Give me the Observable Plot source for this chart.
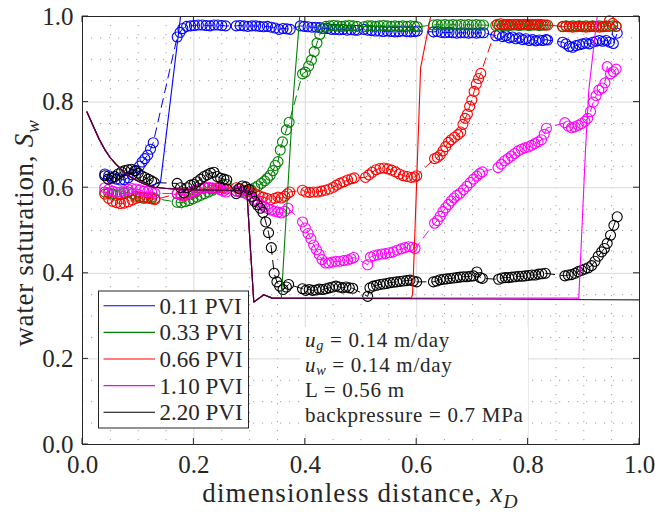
<!DOCTYPE html>
<html>
<head>
<meta charset="utf-8">
<script src="https://cdn.jsdelivr.net/npm/d3@7"></script>
<script src="https://cdn.jsdelivr.net/npm/@observablehq/plot@0.6"></script>
<style>
  body { margin: 0; background: #fff; }
  #chart { width: 655px; height: 514px; }
</style>
</head>
<body>
<div id="chart"></div>
<script>
// Measured water saturation profiles [x_D, S_w] at each injected pore volume
const pvi011 = [
  [0.040,0.632],[0.047,0.628],[0.054,0.624],[0.061,0.620],[0.068,0.618],[0.075,0.619],[0.082,0.623],[0.089,0.630],[0.096,0.640],[0.102,0.650],[0.107,0.660],[0.112,0.668],[0.117,0.676],[0.122,0.690],[0.127,0.705],
  [0.170,0.952],[0.175,0.963],[0.180,0.972],[0.187,0.977],[0.194,0.978],[0.201,0.979],[0.208,0.980],[0.215,0.980],[0.222,0.979],[0.229,0.978],[0.236,0.980],[0.243,0.980],[0.250,0.979],[0.257,0.978],
  [0.276,0.978],[0.283,0.979],[0.290,0.978],[0.297,0.977],[0.304,0.978],[0.311,0.978],[0.318,0.977],[0.325,0.976],[0.332,0.977],[0.339,0.975],[0.346,0.973],[0.353,0.970],[0.360,0.972],[0.367,0.971],[0.373,0.970],
  [0.391,0.978],[0.398,0.977],[0.405,0.976],[0.412,0.975],[0.419,0.975],[0.426,0.974],[0.433,0.972],[0.440,0.972],[0.447,0.970],[0.454,0.970],[0.461,0.969],[0.468,0.970],[0.475,0.968],[0.482,0.969],[0.489,0.968],[0.494,0.968],
  [0.505,0.970],[0.512,0.968],[0.519,0.967],[0.526,0.966],[0.533,0.966],[0.540,0.965],[0.547,0.966],[0.554,0.965],[0.561,0.964],[0.568,0.965],[0.575,0.966],[0.582,0.965],[0.589,0.964],[0.596,0.965],[0.601,0.966],
  [0.630,0.964],[0.637,0.965],[0.644,0.963],[0.651,0.962],[0.658,0.963],[0.665,0.962],[0.672,0.961],[0.679,0.962],[0.686,0.962],[0.693,0.961],[0.700,0.962],[0.707,0.961],[0.714,0.962],[0.720,0.962],
  [0.742,0.955],[0.748,0.958],[0.754,0.953],[0.760,0.955],[0.766,0.950],[0.772,0.952],[0.778,0.948],[0.784,0.950],[0.790,0.946],[0.796,0.948],[0.802,0.944],[0.808,0.946],[0.814,0.943],[0.820,0.945],[0.826,0.944],[0.832,0.946],[0.835,0.945],
  [0.862,0.940],[0.868,0.936],[0.874,0.930],[0.880,0.928],[0.886,0.932],[0.892,0.934],[0.898,0.936],[0.904,0.938],[0.910,0.936],[0.916,0.940],[0.922,0.942],[0.928,0.944],[0.934,0.942],[0.940,0.944],[0.946,0.940],[0.953,0.937],[0.960,0.961]
];
const pvi033 = [
  [0.040,0.590],[0.047,0.588],[0.054,0.585],[0.061,0.582],[0.068,0.584],[0.075,0.588],[0.082,0.590],[0.089,0.586],[0.096,0.580],[0.103,0.577],[0.110,0.575],[0.117,0.576],[0.124,0.578],[0.130,0.575],
  [0.170,0.566],[0.177,0.565],[0.184,0.567],[0.191,0.570],[0.198,0.574],[0.205,0.578],[0.212,0.582],[0.219,0.586],[0.226,0.590],[0.233,0.594],[0.240,0.598],[0.247,0.602],[0.253,0.606],[0.258,0.608],
  [0.276,0.592],[0.283,0.590],[0.290,0.590],[0.297,0.592],[0.303,0.595],[0.309,0.600],[0.315,0.604],[0.321,0.610],[0.327,0.616],[0.332,0.622],[0.337,0.629],[0.342,0.640],[0.346,0.652],[0.351,0.661],[0.355,0.688],[0.359,0.707],[0.366,0.735],[0.371,0.753],
  [0.395,0.866],[0.400,0.870],[0.406,0.884],[0.411,0.898],[0.416,0.918],[0.421,0.938],[0.426,0.958],[0.431,0.972],[0.437,0.977],[0.444,0.978],[0.451,0.979],[0.458,0.978],[0.465,0.977],[0.472,0.978],[0.479,0.979],[0.486,0.978],[0.493,0.977],
  [0.505,0.976],[0.512,0.978],[0.519,0.978],[0.526,0.977],[0.533,0.978],[0.540,0.979],[0.547,0.978],[0.554,0.977],[0.561,0.978],[0.568,0.977],[0.575,0.978],[0.582,0.977],[0.589,0.978],[0.596,0.977],[0.601,0.976],
  [0.630,0.980],[0.637,0.981],[0.644,0.980],[0.651,0.981],[0.658,0.980],[0.665,0.981],[0.672,0.980],[0.679,0.981],[0.686,0.980],[0.693,0.981],[0.700,0.980],[0.707,0.981],[0.714,0.980],[0.720,0.980],
  [0.742,0.979],[0.748,0.980],[0.754,0.979],[0.760,0.980],[0.766,0.979],[0.772,0.980],[0.778,0.980],[0.784,0.979],[0.790,0.980],[0.796,0.980],[0.802,0.979],[0.808,0.980],[0.814,0.980],[0.820,0.979],[0.826,0.980],[0.832,0.980],
  [0.862,0.977],[0.868,0.978],[0.874,0.977],[0.880,0.978],[0.886,0.977],[0.892,0.978],[0.898,0.977],[0.904,0.978],[0.910,0.977],[0.916,0.978],[0.922,0.977],[0.928,0.978],[0.934,0.977],[0.940,0.978],[0.946,0.977],[0.952,0.978],[0.958,0.977]
];
const pvi066 = [
  [0.040,0.585],[0.047,0.575],[0.054,0.568],[0.061,0.565],[0.068,0.563],[0.075,0.564],[0.082,0.567],[0.089,0.571],[0.096,0.575],[0.103,0.578],[0.110,0.578],[0.117,0.576],[0.124,0.574],[0.130,0.572],
  [0.170,0.586],[0.177,0.583],[0.184,0.582],[0.191,0.585],[0.198,0.589],[0.205,0.593],[0.212,0.598],[0.219,0.601],[0.226,0.600],[0.233,0.598],[0.240,0.599],[0.247,0.601],[0.253,0.599],[0.258,0.597],
  [0.276,0.600],[0.283,0.597],[0.290,0.594],[0.297,0.592],[0.303,0.590],[0.310,0.586],[0.317,0.581],[0.324,0.578],[0.331,0.575],[0.338,0.572],[0.345,0.575],[0.351,0.578],[0.357,0.576],[0.363,0.580],[0.368,0.586],[0.372,0.590],
  [0.395,0.594],[0.401,0.590],[0.408,0.589],[0.415,0.590],[0.422,0.590],[0.429,0.592],[0.436,0.594],[0.443,0.597],[0.450,0.601],[0.456,0.606],[0.462,0.610],[0.469,0.614],[0.476,0.618],[0.483,0.621],[0.488,0.623],
  [0.508,0.624],[0.514,0.630],[0.520,0.636],[0.527,0.642],[0.534,0.645],[0.541,0.646],[0.548,0.644],[0.555,0.641],[0.562,0.637],[0.569,0.632],[0.576,0.628],[0.583,0.626],[0.590,0.624],[0.596,0.625],[0.600,0.628],
  [0.632,0.668],[0.637,0.671],[0.642,0.676],[0.647,0.686],[0.652,0.696],[0.657,0.706],[0.662,0.712],[0.668,0.718],[0.674,0.724],[0.679,0.730],[0.683,0.748],[0.687,0.762],[0.691,0.772],[0.695,0.790],[0.699,0.805],[0.703,0.825],[0.707,0.842],[0.711,0.855],[0.715,0.867],
  [0.745,0.982],[0.751,0.983],[0.757,0.981],[0.763,0.982],[0.769,0.981],[0.775,0.982],[0.781,0.982],[0.787,0.981],[0.793,0.982],[0.799,0.981],[0.805,0.982],[0.811,0.981],[0.817,0.982],[0.823,0.981],[0.829,0.980],[0.835,0.980],
  [0.862,0.976],[0.868,0.977],[0.874,0.976],[0.880,0.975],[0.886,0.976],[0.892,0.977],[0.898,0.976],[0.904,0.975],[0.910,0.976],[0.916,0.977],[0.922,0.976],[0.928,0.975],[0.934,0.976],[0.940,0.977],[0.946,0.990],[0.952,0.984],[0.958,0.977]
];
const pvi110 = [
  [0.040,0.600],[0.047,0.596],[0.054,0.592],[0.061,0.589],[0.068,0.590],[0.075,0.593],[0.082,0.596],[0.089,0.598],[0.096,0.597],[0.103,0.595],[0.110,0.592],[0.117,0.591],[0.124,0.589],[0.130,0.587],
  [0.170,0.586],[0.177,0.582],[0.184,0.583],[0.191,0.587],[0.198,0.591],[0.205,0.595],[0.212,0.598],[0.219,0.600],[0.226,0.601],[0.233,0.600],[0.240,0.598],[0.247,0.595],[0.253,0.592],[0.258,0.590],
  [0.276,0.592],[0.283,0.591],[0.290,0.588],[0.297,0.584],[0.303,0.578],[0.309,0.573],[0.315,0.566],[0.321,0.560],[0.327,0.555],[0.333,0.551],[0.339,0.548],[0.345,0.545],[0.351,0.543],[0.357,0.541],[0.363,0.545],[0.369,0.552],
  [0.395,0.520],[0.400,0.506],[0.405,0.493],[0.410,0.481],[0.415,0.466],[0.420,0.455],[0.425,0.444],[0.430,0.432],[0.436,0.424],[0.442,0.424],[0.448,0.426],[0.455,0.428],[0.462,0.428],[0.469,0.430],[0.476,0.431],[0.482,0.434],[0.487,0.437],
  [0.512,0.420],[0.517,0.438],[0.523,0.441],[0.530,0.443],[0.537,0.445],[0.544,0.446],[0.551,0.448],[0.558,0.450],[0.565,0.454],[0.572,0.457],[0.579,0.460],[0.586,0.462],[0.592,0.461],[0.597,0.458],
  [0.632,0.517],[0.637,0.523],[0.642,0.533],[0.647,0.544],[0.652,0.553],[0.657,0.561],[0.662,0.569],[0.667,0.576],[0.672,0.582],[0.678,0.587],[0.684,0.595],[0.690,0.603],[0.696,0.612],[0.702,0.620],[0.708,0.627],[0.713,0.633],[0.718,0.637],
  [0.746,0.647],[0.752,0.655],[0.758,0.663],[0.764,0.668],[0.770,0.674],[0.776,0.680],[0.782,0.686],[0.788,0.690],[0.794,0.693],[0.800,0.695],[0.806,0.699],[0.812,0.703],[0.818,0.707],[0.824,0.712],[0.829,0.725],[0.833,0.739],
  [0.866,0.752],[0.872,0.744],[0.878,0.740],[0.884,0.742],[0.890,0.746],[0.896,0.750],[0.902,0.755],[0.907,0.762],[0.912,0.778],[0.917,0.800],[0.922,0.815],[0.927,0.828],[0.933,0.833],[0.938,0.845],[0.942,0.883],[0.948,0.866],[0.953,0.871],[0.958,0.877]
];
const pvi220 = [
  [0.040,0.628],[0.046,0.620],[0.052,0.622],[0.058,0.626],[0.064,0.632],[0.070,0.637],[0.076,0.640],[0.082,0.642],[0.088,0.643],[0.094,0.640],[0.100,0.634],[0.106,0.628],[0.112,0.624],[0.118,0.620],[0.124,0.616],[0.129,0.612],
  [0.170,0.610],[0.176,0.600],[0.182,0.588],[0.188,0.600],[0.194,0.606],[0.200,0.608],[0.206,0.614],[0.212,0.620],[0.218,0.626],[0.224,0.630],[0.230,0.634],[0.236,0.636],[0.242,0.626],[0.248,0.622],[0.254,0.620],[0.259,0.618],
  [0.276,0.586],[0.281,0.598],[0.287,0.604],[0.293,0.602],[0.299,0.596],[0.304,0.580],[0.309,0.568],[0.314,0.560],[0.319,0.552],[0.324,0.542],[0.329,0.520],[0.334,0.495],[0.339,0.460],[0.344,0.400],[0.349,0.380],[0.354,0.370],[0.360,0.362],[0.366,0.368],[0.370,0.374],
  [0.395,0.364],[0.401,0.360],[0.407,0.362],[0.413,0.360],[0.419,0.361],[0.425,0.363],[0.431,0.362],[0.437,0.364],[0.443,0.366],[0.449,0.368],[0.455,0.370],[0.461,0.368],[0.467,0.366],[0.473,0.368],[0.479,0.366],[0.485,0.365],
  [0.512,0.346],[0.516,0.366],[0.522,0.370],[0.528,0.372],[0.534,0.374],[0.540,0.375],[0.546,0.376],[0.552,0.378],[0.558,0.379],[0.564,0.380],[0.570,0.381],[0.576,0.382],[0.582,0.383],[0.588,0.384],[0.594,0.382],[0.600,0.380],
  [0.630,0.380],[0.636,0.382],[0.642,0.385],[0.648,0.386],[0.654,0.387],[0.660,0.388],[0.666,0.389],[0.672,0.390],[0.678,0.391],[0.684,0.392],[0.690,0.392],[0.696,0.393],[0.702,0.394],[0.708,0.403],[0.714,0.390],[0.718,0.388],
  [0.747,0.386],[0.753,0.389],[0.759,0.390],[0.765,0.390],[0.771,0.391],[0.777,0.392],[0.783,0.393],[0.789,0.393],[0.795,0.394],[0.801,0.395],[0.807,0.396],[0.813,0.396],[0.819,0.398],[0.825,0.399],[0.831,0.400],
  [0.866,0.394],[0.872,0.396],[0.878,0.397],[0.884,0.400],[0.890,0.404],[0.896,0.407],[0.902,0.410],[0.908,0.413],[0.914,0.418],[0.920,0.428],[0.926,0.440],[0.932,0.450],[0.937,0.458],[0.942,0.470],[0.948,0.489],[0.954,0.512],[0.960,0.532]
];

// Model profiles [x_D, S_w]
const modelInlet = [[0.008,0.777],[0.020,0.742],[0.030,0.713],[0.040,0.689],[0.050,0.670],[0.060,0.655],[0.070,0.642],[0.080,0.631],[0.090,0.622],[0.100,0.615],[0.110,0.609],[0.120,0.604],[0.130,0.601],[0.150,0.598],[0.200,0.595],[0.250,0.594],[0.295,0.593]];
const modelDryZone = [[0.3075,0.333],[0.3255,0.350],[0.3405,0.342]];
const model011 = [...modelInlet.slice(0, 12), [0.140,0.612],[0.176,1.0],[1.0,1.0]];
const model033 = [...modelInlet, ...modelDryZone, [0.357,0.342],[0.378,0.805],[0.390,1.0],[1.0,1.0]];
const model066 = [...modelInlet, ...modelDryZone, [0.590,0.342],[0.5925,0.350],[0.595,0.430],[0.605,0.805],[0.607,0.880],[0.625,1.0],[1.0,1.0]];
const model110 = [...modelInlet, ...modelDryZone, [0.891,0.342],[0.903,0.688],[0.909,0.828],[0.924,1.0],[1.0,1.0]];
const model220 = [...modelInlet, ...modelDryZone, [1.0,0.338]];

const seriesLabels = ["0.11 PVI", "0.33 PVI", "0.66 PVI", "1.10 PVI", "2.20 PVI"];
const seriesColors = ["#0000ff", "#008000", "#ff0000", "#ff00ff", "#000000"];
const measured = [pvi011, pvi033, pvi066, pvi110, pvi220];
const models = [model011, model033, model066, model110, model220];

const majorTicks = [0, 0.2, 0.4, 0.6, 0.8, 1.0];
const minorTicks = [0.05, 0.10, 0.15, 0.25, 0.30, 0.35, 0.45, 0.50, 0.55, 0.65, 0.70, 0.75, 0.85, 0.90, 0.95];
const notes = [
  [{t: "u", it: true}, {t: "g", it: true, sub: true}, {t: " = 0.14 m/day"}],
  [{t: "u", it: true}, {t: "w", it: true, sub: true}, {t: " = 0.14 m/day"}],
  [{t: "L = 0.56 m"}],
  [{t: "backpressure = 0.7 MPa"}]
];

(function draw() {
  const serif = "'Liberation Serif', 'Times New Roman', serif";
  const ink = "#262626";
  const px = d => d[0], py = d => d[1];

  const chart = Plot.plot({
    width: 655,
    height: 514,
    marginLeft: 82,
    marginRight: 16,
    marginTop: 16,
    marginBottom: 70,
    x: {domain: [0, 1]},
    y: {domain: [0, 1]},
    style: {fontFamily: serif, background: "#fff", overflow: "visible"},
    marks: [
      Plot.gridX(minorTicks, {stroke: "#8a8a8a", strokeOpacity: 0.8, strokeDasharray: "1.2,7.8"}),
      Plot.gridY(minorTicks, {stroke: "#8a8a8a", strokeOpacity: 0.8, strokeDasharray: "1.2,7.8"}),
      Plot.gridX(majorTicks, {stroke: "#dadada", strokeOpacity: 1}),
      Plot.gridY(majorTicks, {stroke: "#dadada", strokeOpacity: 1}),
      ...measured.flatMap((data, i) => [
        Plot.line(data, {x: px, y: py, stroke: seriesColors[i], strokeWidth: 1, strokeDasharray: "9,6"}),
        Plot.dot(data, {x: px, y: py, r: 5, stroke: seriesColors[i], fill: "none", strokeWidth: 1.1})
      ]),
      ...models.map((data, i) => Plot.line(data, {
        x: px, y: py, stroke: seriesColors[i], strokeWidth: 1.1,
        strokeOpacity: i === 4 ? 0.8 : 1
      })),
      Plot.frame({stroke: ink}),
      Plot.axisX(majorTicks, {tickSize: 0, tickPadding: 11, tickFormat: d3.format(".1f"), fontSize: 25, fill: ink, label: null}),
      Plot.axisY(majorTicks, {tickSize: 0, tickPadding: 9, tickFormat: d3.format(".1f"), fontSize: 25, fill: ink, label: null})
    ]
  });

  document.getElementById("chart").append(chart);

  const sx = chart.scale("x"), sy = chart.scale("y");
  const X = v => sx.apply(v), Y = v => sy.apply(v);
  const svg = d3.select(chart);
  const x0 = X(0), x1 = X(1), y0 = Y(0), y1 = Y(1);

  // inward tick marks on all four sides
  const tickG = svg.append("g").attr("stroke", ink).attr("stroke-width", 1);
  for (const v of majorTicks) {
    tickG.append("line").attr("x1", X(v)).attr("x2", X(v)).attr("y1", y0).attr("y2", y0 - 6);
    tickG.append("line").attr("x1", X(v)).attr("x2", X(v)).attr("y1", y1).attr("y2", y1 + 6);
    tickG.append("line").attr("y1", Y(v)).attr("y2", Y(v)).attr("x1", x0).attr("x2", x0 + 6);
    tickG.append("line").attr("y1", Y(v)).attr("y2", Y(v)).attr("x1", x1).attr("x2", x1 - 6);
  }

  // text with italic symbols and subscripts
  function richText(parent, x, y, parts, size, anchor, spacing, subShift, subScale) {
    const t = parent.append("text")
      .attr("x", x).attr("y", y)
      .attr("font-family", serif).attr("font-size", size)
      .attr("fill", ink).attr("text-anchor", anchor || "start")
      .attr("letter-spacing", spacing || 0);
    let shift = 0;
    for (const p of parts) {
      const s = t.append("tspan").text(p.t);
      if (p.it) s.attr("font-style", "italic");
      const want = p.sub ? size * (subShift || 0.24) : 0;
      if (want !== shift) { s.attr("dy", want - shift); shift = want; }
      if (p.sub) s.attr("font-size", size * (subScale || 0.72));
    }
    return t;
  }

  // axis titles
  richText(svg, (x0 + x1) / 2, 502,
    [{t: "dimensionless distance, "}, {t: "x", it: true}, {t: "D", it: true, sub: true}], 27, "middle", 1.1);
  const yTitle = svg.append("g").attr("transform", `translate(33,${(y0 + y1) / 2 + 3}) rotate(-90)`);
  richText(yTitle, 0, 0,
    [{t: "water saturation, "}, {t: "S", it: true}, {t: "w", it: true, sub: true}], 27, "middle", 0.7);

  // flow conditions
  svg.append("rect").attr("x", 300).attr("y", 327).attr("width", 228).attr("height", 107).attr("fill", "#fff");
  notes.forEach((parts, i) => richText(svg, 305, 347 + i * 25, parts, 21, "start", 0.7, 0.14, 0.68));

  // legend
  const lg = svg.append("g");
  lg.append("rect").attr("x", 98.5).attr("y", 291).attr("width", 150).attr("height", 137)
    .attr("fill", "#fff").attr("stroke", ink).attr("stroke-width", 1);
  seriesLabels.forEach((label, i) => {
    const cy = 305.7 + i * 26.65;
    lg.append("line").attr("x1", 103.5).attr("x2", 155).attr("y1", cy).attr("y2", cy)
      .attr("stroke", seriesColors[i]).attr("stroke-width", 1.1);
    lg.append("text").attr("x", 159.5).attr("y", cy + 8).attr("font-family", serif)
      .attr("text-anchor", "start").attr("font-size", 23).attr("fill", ink).text(label);
  });
})();
</script>
</body>
</html>
